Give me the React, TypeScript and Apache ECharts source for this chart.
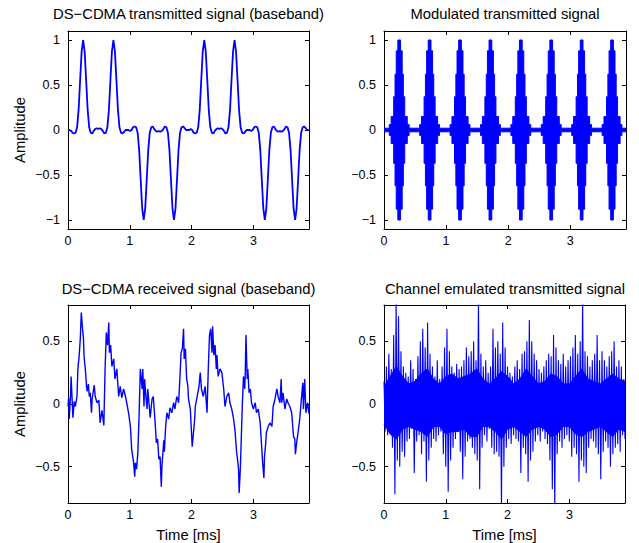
import React, { useEffect, useRef } from "react";
import * as echarts from "echarts";

// ---------- tick labels ----------
const xTicks = [0, 1, 2, 3];
const yTicksTop = [-1, -0.5, 0, 0.5, 1];
const yTicksBottom = [-0.5, 0, 0.5];

const panelTitles = [
  "DS\u2212CDMA transmitted signal (baseband)",
  "Modulated transmitted signal",
  "DS\u2212CDMA received signal (baseband)",
  "Channel emulated transmitted signal",
];
const yAxisName = "Amplitude";
const xAxisName = "Time [ms]";

// ---------- top-left: baseband transmitted signal (sample step in ms) ----------
const txStep = 0.0245;
const txBaseband = [
  0, 0, -0.01, -0.03, -0.04, -0.03, 0.03, 0.22, 0.55, 0.87,
  1,
  0.87, 0.55, 0.22, 0.03, -0.03, -0.04, -0.01, 0.01, 0.02, 0.01, 0.02, 0.01, -0.01, -0.04, -0.03, 0.03, 0.22, 0.55, 0.87,
  1,
  0.87, 0.55, 0.22, 0.03, -0.03, -0.04, -0.02, 0, 0, 0, -0.01, 0, 0.03, 0.04, 0.03, -0.03, -0.22, -0.55, -0.87,
  -1,
  -0.87, -0.55, -0.22, -0.03, 0.03, 0.04, 0.01, -0.01, -0.02, -0.01, -0.02, -0.01, 0.01, 0.04, 0.03, -0.03, -0.22, -0.55, -0.87,
  -1,
  -0.87, -0.55, -0.22, -0.03, 0.03, 0.04, 0.02, 0, 0, 0, 0.01, 0, -0.03, -0.04, -0.03, 0.03, 0.22, 0.55, 0.87,
  1,
  0.87, 0.55, 0.22, 0.03, -0.03, -0.04, -0.01, 0.01, 0.02, 0.01, 0.02, 0.01, -0.01, -0.04, -0.03, 0.03, 0.22, 0.55, 0.87,
  1,
  0.87, 0.55, 0.22, 0.03, -0.03, -0.04, -0.02, 0, 0, 0, -0.01, 0, 0.03, 0.04, 0.03, -0.03, -0.22, -0.55, -0.87,
  -1,
  -0.87, -0.55, -0.22, -0.03, 0.03, 0.04, 0.01, -0.01, -0.02, -0.01, -0.02, -0.01, 0.01, 0.04, 0.03, -0.03, -0.22, -0.55, -0.87,
  -1,
  -0.87, -0.55, -0.22, -0.03, 0.03, 0.04, 0.02, 0, 0,
];

// ---------- top-right: envelope of the modulated bursts ----------
const burstCenters = [0.245, 0.735, 1.225, 1.715, 2.205, 2.695, 3.185, 3.675];
const burstOffsets = [-0.2, -0.16, -0.13, -0.089, -0.067, -0.048, -0.022, 0.022, 0.048, 0.067, 0.089, 0.13, 0.16];
const burstLevels = [0.02, 0.06, 0.15, 0.37, 0.62, 0.88, 1.0, 0.88, 0.62, 0.37, 0.15, 0.06, 0.02];
const baselineLevel = 0.02;

// ---------- bottom-left: received baseband signal, [time ms, amplitude] ----------
const rxSignal = [
  [0, -0.02], [0.01, 0.05], [0.02, -0.12], [0.04, 0.06], [0.05, 0.22], [0.08, -0.11], [0.1, 0.02], [0.12, -0.02],
  [0.145, 0.06], [0.16, 0.28], [0.18, 0.38], [0.2, 0.53], [0.215, 0.73], [0.23, 0.63], [0.25, 0.52], [0.26, 0.38],
  [0.28, 0.28], [0.3, 0.14], [0.31, 0.1], [0.33, 0.16], [0.345, 0.06], [0.36, 0.09], [0.38, -0.07], [0.39, 0.04],
  [0.425, 0.15], [0.44, 0.06], [0.47, 0.01], [0.5, 0.03], [0.52, -0.15], [0.55, -0.05], [0.58, -0.17], [0.6, 0.28],
  [0.62, 0.57], [0.64, 0.47], [0.66, 0.65], [0.67, 0.41], [0.69, 0.47], [0.71, 0.3], [0.74, 0.36], [0.76, 0.2],
  [0.79, 0.28], [0.82, 0.06], [0.845, 0.14], [0.87, 0.05], [0.9, 0.12], [0.93, 0.06], [0.95, 0.01], [0.98, -0.07],
  [1.01, -0.18], [1.03, -0.36], [1.06, -0.46], [1.08, -0.58], [1.09, -0.47], [1.11, -0.52], [1.13, -0.39], [1.15, -0.1],
  [1.17, 0.28], [1.2, 0.12], [1.21, 0.28], [1.23, -0.02], [1.24, 0.2], [1.26, 0.06], [1.28, -0.04], [1.29, 0.12],
  [1.31, 0.01], [1.33, -0.11], [1.36, 0.04], [1.38, 0.06], [1.41, -0.15], [1.43, -0.31], [1.45, -0.28], [1.47, -0.44],
  [1.49, -0.42], [1.51, -0.66], [1.52, -0.5], [1.55, -0.29], [1.56, -0.38], [1.58, -0.18], [1.6, -0.07], [1.63, -0.12],
  [1.65, -0.03], [1.68, -0.07], [1.71, 0.01], [1.73, -0.04], [1.76, 0.06], [1.79, 0.01], [1.81, 0.2], [1.83, 0.41],
  [1.85, 0.44], [1.87, 0.6], [1.88, 0.36], [1.9, 0.44], [1.92, 0.2], [1.94, 0.14], [1.95, 0.04], [1.98, -0.04],
  [1.99, -0.15], [2.01, -0.34], [2.03, -0.23], [2.05, -0.12], [2.06, -0.02], [2.09, 0.06], [2.12, 0.14], [2.14, 0.25],
  [2.16, 0.12], [2.19, 0.06], [2.22, 0.14], [2.25, -0.07], [2.27, 0.28], [2.29, 0.55], [2.31, 0.6], [2.33, 0.41],
  [2.34, 0.62], [2.36, 0.39], [2.38, 0.47], [2.4, 0.28], [2.41, 0.39], [2.43, 0.22], [2.46, 0.28], [2.49, 0.25],
  [2.52, 0.12], [2.54, -0.02], [2.57, 0.06], [2.6, 0.09], [2.62, 0.01], [2.65, -0.04], [2.68, -0.12], [2.7, -0.2],
  [2.73, -0.39], [2.75, -0.47], [2.76, -0.52], [2.77, -0.71], [2.79, -0.5], [2.81, -0.18], [2.82, -0.02], [2.84, 0.22],
  [2.86, 0.12], [2.87, 0.28], [2.88, 0.55], [2.9, 0.2], [2.91, 0.28], [2.93, 0.09], [2.95, 0.12], [2.97, 0.01],
  [3.0, -0.04], [3.03, 0.01], [3.05, -0.07], [3.08, -0.04], [3.11, -0.15], [3.13, -0.31], [3.15, -0.47], [3.17, -0.59],
  [3.18, -0.42], [3.2, -0.31], [3.21, -0.23], [3.24, -0.18], [3.27, -0.15], [3.3, -0.18], [3.32, -0.02], [3.35, 0.04],
  [3.38, 0.12], [3.4, 0.06], [3.43, 0.01], [3.45, 0.2], [3.46, 0.01], [3.48, 0.09], [3.51, -0.04], [3.54, 0.04],
  [3.56, 0.01], [3.59, -0.02], [3.62, -0.07], [3.65, -0.26], [3.67, -0.28], [3.68, -0.4], [3.7, -0.31], [3.73, -0.2],
  [3.75, -0.12], [3.78, 0.06], [3.8, 0.17], [3.81, -0.04], [3.83, 0.2], [3.85, -0.07], [3.86, -0.04], [3.88, 0.01],
  [3.9, -0.08],
];

// ---------- bottom-right: channel emulated signal (uniform samples over 0..3.9 ms) ----------
const chAmp = [
  0.18, -0.22, 0.3, -0.25, 0.4, -0.2, 0.28, -0.35, 0.55, -0.72,
  0.85, -0.45, 0.7, -0.5, 0.42, -0.38, 0.3, -0.42, 0.25, -0.3,
  0.22, -0.28, 0.35, -0.2, 0.28, -0.55, 0.2, -0.3, 0.38, -0.25,
  0.5, -0.4, 0.6, -0.3, 0.45, -0.62, 0.65, -0.45, 0.4, -0.35,
  0.3, -0.28, 0.22, -0.3, 0.35, -0.25, 0.2, -0.22, 0.3, -0.4,
  0.45, -0.5, 0.6, -0.7, 0.42, -0.45, 0.3, -0.35, 0.25, -0.28,
  0.32, -0.22, 0.28, -0.38, 0.3, -0.6, 0.35, -0.42, 0.45, -0.3,
  0.38, -0.28, 0.42, -0.35, 0.5, -0.4, 0.35, -0.45, 0.85, -0.68,
  0.4, -0.35, 0.3, -0.25, 0.35, -0.3, 0.25, -0.2, 0.3, -0.35,
  0.6, -0.4, 0.45, -0.38, 0.5, -0.42, 0.4, -0.85, 0.65, -0.5,
  0.45, -0.35, 0.3, -0.28, 0.25, -0.32, 0.22, -0.25, 0.3, -0.28,
  0.35, -0.3, 0.28, -0.55, 0.4, -0.35, 0.42, -0.4, 0.5, -0.62,
  0.67, -0.45, 0.5, -0.38, 0.4, -0.3, 0.35, -0.25, 0.28, -0.3,
  0.25, -0.22, 0.3, -0.28, 0.35, -0.32, 0.4, -0.45, 0.38, -0.68,
  0.55, -0.85, 0.45, -0.4, 0.35, -0.3, 0.32, -0.35, 0.4, -0.28,
  0.3, -0.25, 0.35, -0.3, 0.38, -0.42, 0.45, -0.35, 0.55, -0.4,
  0.4, -0.62, 0.5, -0.45, 0.85, -0.5, 0.42, -0.55, 0.38, -0.35,
  0.3, -0.28, 0.35, -0.3, 0.4, -0.35, 0.55, -0.4, 0.35, -0.6,
  0.42, -0.38, 0.35, -0.3, 0.3, -0.35, 0.38, -0.5, 0.42, -0.4,
  0.5, -0.35, 0.3, -0.32, 0.35, -0.38, 0.3, -0.25, 0.2, -0.28,
];
// solid core of the channel signal: upper and lower edge, one value every 0.1 ms
const chCoreUpper = [
  0.14, 0.22, 0.3, 0.22, 0.16, 0.18, 0.24, 0.28, 0.2, 0.16,
  0.22, 0.24, 0.2, 0.22, 0.24, 0.28, 0.2, 0.16, 0.2, 0.26,
  0.22, 0.16, 0.2, 0.28, 0.22, 0.16, 0.18, 0.24, 0.22, 0.16,
  0.16, 0.22, 0.28, 0.2, 0.18, 0.16, 0.2, 0.24, 0.2, 0.18,
];
const chCoreLower = [
  -0.16, -0.24, -0.28, -0.2, -0.18, -0.2, -0.22, -0.26, -0.18, -0.18,
  -0.24, -0.22, -0.22, -0.2, -0.26, -0.26, -0.18, -0.18, -0.22, -0.28,
  -0.2, -0.18, -0.22, -0.26, -0.2, -0.18, -0.2, -0.26, -0.24, -0.18,
  -0.18, -0.24, -0.26, -0.22, -0.2, -0.18, -0.22, -0.26, -0.2, -0.22,
];
const coreStep = 0.1;
const timeMax = 3.9;

const FONT = "'Liberation Sans', Arial, Helvetica, sans-serif";
const BLUE = "#0000ff";

const grids = [
  { left: 68, top: 31, width: 241, height: 198 },
  { left: 384, top: 31, width: 242, height: 198 },
  { left: 68, top: 305, width: 241, height: 198 },
  { left: 384, top: 305, width: 241, height: 198 },
];

const fmt = (v: number) => String(v).replace("-", "\u2212");

function makeAxes(g: number, yMin: number, yMax: number, yTicks: number[], yName: boolean, xName: boolean) {
  const line = { show: true, onZero: false, lineStyle: { color: "#000", width: 1 } };
  const tick = (vals: number[]) => ({ show: true, inside: true, length: 4, customValues: vals, lineStyle: { color: "#000", width: 1 } });
  const label = (vals: number[], margin: number) => ({
    show: true, customValues: vals, margin, color: "#000", fontSize: 12.5, fontFamily: FONT, formatter: fmt,
  });
  const xa = [
    {
      type: "value", gridIndex: g, position: "bottom", min: 0, max: timeMax,
      axisLine: line, axisTick: tick(xTicks), axisLabel: label(xTicks, 5), splitLine: { show: false },
      name: xName ? xAxisName : "", nameLocation: "middle", nameGap: 24,
      nameTextStyle: { fontSize: 14.8, color: "#000", fontFamily: FONT },
    },
    {
      type: "value", gridIndex: g, position: "top", min: 0, max: timeMax,
      axisLine: line, axisTick: tick(xTicks), axisLabel: { show: false }, splitLine: { show: false },
    },
  ];
  const ya = [
    {
      type: "value", gridIndex: g, position: "left", min: yMin, max: yMax,
      axisLine: line, axisTick: tick(yTicks), axisLabel: label(yTicks, 8), splitLine: { show: false },
      name: yName ? yAxisName : "", nameLocation: "middle", nameGap: 41, nameRotate: 90,
      nameTextStyle: { fontSize: 14.8, color: "#000", fontFamily: FONT },
    },
    {
      type: "value", gridIndex: g, position: "right", min: yMin, max: yMax,
      axisLine: line, axisTick: tick(yTicks), axisLabel: { show: false }, splitLine: { show: false },
    },
  ];
  return { xa, ya };
}

export default function App() {
  const ref = useRef<HTMLDivElement>(null);
  useEffect(() => {
    document.body.style.margin = "0";
    if (!ref.current) return;
    const chart = echarts.init(ref.current, undefined, { renderer: "svg" });

    const axes = [
      makeAxes(0, -1.1, 1.1, yTicksTop, true, false),
      makeAxes(1, -1.1, 1.1, yTicksTop, false, false),
      makeAxes(2, -0.79, 0.79, yTicksBottom, true, true),
      makeAxes(3, -0.79, 0.79, yTicksBottom, false, true),
    ];
    const xAxis = axes.flatMap((a) => a.xa);
    const yAxis = axes.flatMap((a) => a.ya);

    const txData = txBaseband.map((v, i) => [i * txStep, v]);

    const envUpper: number[][] = [[0, baselineLevel]];
    burstCenters.forEach((c) => {
      burstOffsets.forEach((o, j) => envUpper.push([c + o, burstLevels[j]]));
    });
    envUpper.push([timeMax, baselineLevel]);
    const envLower = envUpper.map(([t, v]) => [t, -v]);

    const chStep = timeMax / (chAmp.length - 1);
    const chData = chAmp.map((v, i) => [i * chStep, v]);
    const coreUp = chCoreUpper.map((v, i) => [Math.min(i * coreStep, timeMax), v]);
    const coreLo = chCoreLower.map((v, i) => [Math.min(i * coreStep, timeMax), v]);

    const titleCenters = [
      [188.5, 14],
      [505, 14],
      [188.5, 289],
      [505, 289],
    ];

    const areaSeries = (data: number[][], xi: number, step: any) => ({
      type: "line", xAxisIndex: xi, yAxisIndex: xi, data, step, showSymbol: false, silent: true,
      lineStyle: { color: BLUE, width: 1 }, itemStyle: { color: BLUE }, areaStyle: { color: BLUE, opacity: 1 },
    });

    chart.setOption({
      animation: false,
      backgroundColor: "#fff",
      grid: grids.map((g) => ({ ...g, containLabel: false })),
      xAxis,
      yAxis,
      graphic: panelTitles.map((t, i) => ({
        type: "text",
        x: titleCenters[i][0],
        y: titleCenters[i][1],
        silent: true,
        style: {
          text: t, fill: "#000", fontSize: 14.8, fontFamily: FONT,
          align: "center", verticalAlign: "middle",
        },
      })),
      series: [
        {
          type: "line", xAxisIndex: 0, yAxisIndex: 0, data: txData, showSymbol: false, silent: true,
          lineStyle: { color: BLUE, width: 1.8 }, itemStyle: { color: BLUE },
        },
        areaSeries(envUpper, 2, "end"),
        areaSeries(envLower, 2, "end"),
        {
          type: "line", xAxisIndex: 4, yAxisIndex: 4, data: rxSignal, showSymbol: false, silent: true,
          lineStyle: { color: BLUE, width: 1.4 }, itemStyle: { color: BLUE },
        },
        areaSeries(coreUp, 6, false),
        areaSeries(coreLo, 6, false),
        {
          type: "line", xAxisIndex: 6, yAxisIndex: 6, data: chData, showSymbol: false, silent: true,
          lineStyle: { color: BLUE, width: 1.1 }, itemStyle: { color: BLUE },
        },
      ],
    });
    return () => chart.dispose();
  }, []);
  return <div ref={ref} style={{ width: 639, height: 543 }} />;
}
